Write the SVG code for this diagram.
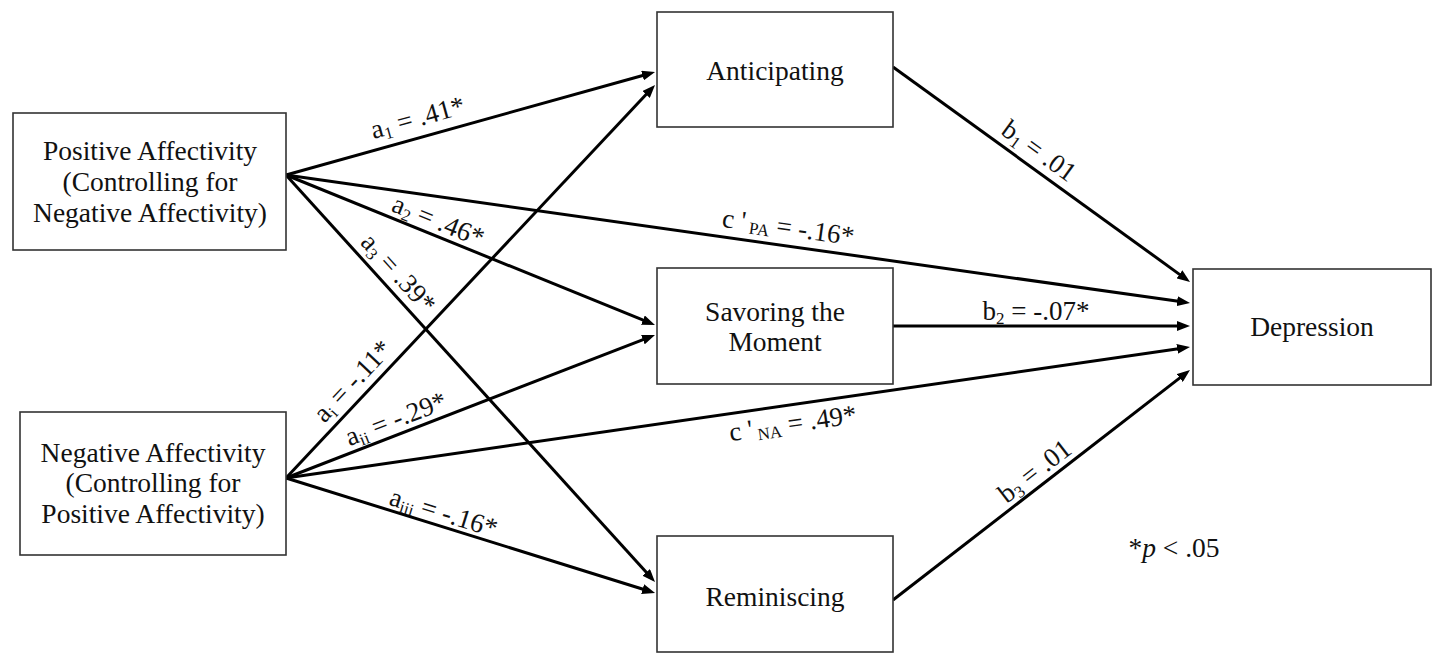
<svg xmlns="http://www.w3.org/2000/svg" width="1440" height="670" viewBox="0 0 1440 670">
<style>
text{font-family:"Liberation Serif","Times New Roman",serif;font-size:27.5px;fill:#111;}
.box{fill:#fff;stroke:#333;stroke-width:1.6;}
.node text{text-anchor:middle;}
.lbl{text-anchor:middle;font-size:27px;}
.sub{font-size:17px;}
.edge{stroke:#000;stroke-width:3;fill:none;marker-end:url(#arr);}
</style>
<defs>
<marker id="arr" markerUnits="userSpaceOnUse" markerWidth="13" markerHeight="10" refX="3" refY="5" orient="auto">
<path d="M0,0 L13,5 L0,10 z" fill="#000"/>
</marker>
</defs>
<rect width="1440" height="670" fill="#fff"/>
<g id="connectors">
<line class="edge" x1="286" y1="175" x2="645.4" y2="74.7"/>
<line class="edge" x1="286" y1="175" x2="645.7" y2="321.2"/>
<line class="edge" x1="286" y1="175" x2="648.3" y2="574.6"/>
<line class="edge" x1="286" y1="478" x2="648.2" y2="92.3"/>
<line class="edge" x1="286" y1="478" x2="645.7" y2="338.6"/>
<line class="edge" x1="286" y1="478" x2="645.5" y2="590"/>
<line class="edge" x1="286" y1="175" x2="1180.1" y2="301.6"/>
<line class="edge" x1="286" y1="478" x2="1180.1" y2="348.4"/>
<line class="edge" x1="893" y1="67" x2="1181.9" y2="276.1"/>
<line class="edge" x1="893" y1="326" x2="1180" y2="326"/>
<line class="edge" x1="893" y1="600" x2="1182.1" y2="376.1"/>
<g id="edge-labels">
<text class="lbl" transform="translate(420,126) rotate(-15.6)">a<tspan class="sub" dy="4">1</tspan><tspan dy="-4"> = .41*</tspan></text>
<text class="lbl" transform="translate(435,229) rotate(22.1)">a<tspan class="sub" dy="4">2</tspan><tspan dy="-4"> = .46*</tspan></text>
<text class="lbl" transform="translate(392,279) rotate(47.8)">a<tspan class="sub" dy="4">3</tspan><tspan dy="-4"> = .39*</tspan></text>
<text class="lbl" transform="translate(359,387) rotate(-46.8)">a<tspan class="sub" dy="4">i</tspan><tspan dy="-4"> = -.11*</tspan></text>
<text class="lbl" transform="translate(399,427) rotate(-21.2)">a<tspan class="sub" dy="4">ii</tspan><tspan dy="-4"> = -.29*</tspan></text>
<text class="lbl" transform="translate(441,521) rotate(17.3)">a<tspan class="sub" dy="4">iii</tspan><tspan dy="-4"> = -.16*</tspan></text>
<text class="lbl" transform="translate(787,236) rotate(8.06)">c '<tspan class="sub" dy="3"> PA</tspan><tspan dy="-3"> = -.16*</tspan></text>
<text class="lbl" transform="translate(794,432) rotate(-8.25)">c '<tspan class="sub" dy="3"> NA</tspan><tspan dy="-3"> = .49*</tspan></text>
<text class="lbl" transform="translate(1034,158) rotate(35.9)">b<tspan class="sub" dy="4">1</tspan><tspan dy="-4"> = .01</tspan></text>
<text class="lbl" x="1036" y="320">b<tspan class="sub" dy="4">2</tspan><tspan dy="-4"> = -.07*</tspan></text>
<text class="lbl" transform="translate(1040,478) rotate(-37.8)">b<tspan class="sub" dy="4">3</tspan><tspan dy="-4"> = .01</tspan></text>
</g>
</g>
<g id="pa" class="node">
<rect class="box" x="13" y="113" width="273" height="137"/>
<text x="150" y="160">Positive Affectivity</text>
<text x="150" y="191">(Controlling for</text>
<text x="150" y="222">Negative Affectivity)</text>
</g>
<g id="na" class="node">
<rect class="box" x="20" y="412" width="266" height="143"/>
<text x="153" y="462">Negative Affectivity</text>
<text x="153" y="492">(Controlling for</text>
<text x="153" y="523">Positive Affectivity)</text>
</g>
<g id="anticipating" class="node">
<rect class="box" x="657" y="12" width="236" height="115"/>
<text x="775" y="80">Anticipating</text>
</g>
<g id="savoring" class="node">
<rect class="box" x="657" y="268" width="236" height="116"/>
<text x="775" y="321">Savoring the</text>
<text x="775" y="351">Moment</text>
</g>
<g id="reminiscing" class="node">
<rect class="box" x="657" y="536" width="236" height="116"/>
<text x="775" y="606">Reminiscing</text>
</g>
<g id="depression" class="node">
<rect class="box" x="1193" y="269" width="238" height="116"/>
<text x="1312" y="336">Depression</text>
</g>
<text id="note" x="1174" y="557" text-anchor="middle">*<tspan font-style="italic">p</tspan> &lt; .05</text>
</svg>
